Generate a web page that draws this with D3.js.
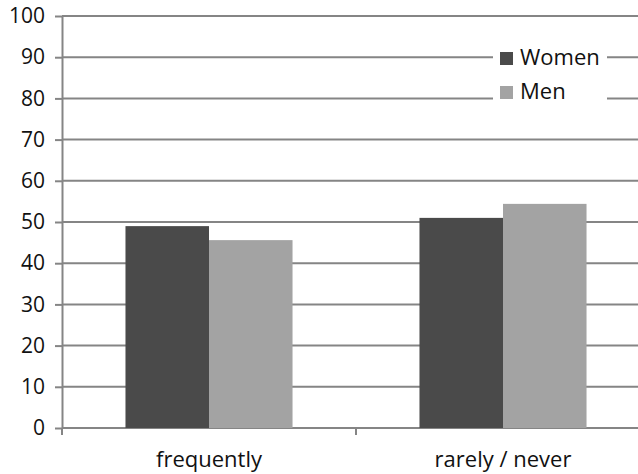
<!DOCTYPE html>
<html>
<head>
<meta charset="utf-8">
<script src="https://cdn.jsdelivr.net/npm/d3@7"></script>
<style>
  html, body { margin: 0; padding: 0; background: #fff; }
  svg { display: block; font-family: "Open Sans", sans-serif; }
</style>
</head>
<body>
<svg id="chart" width="638" height="474"></svg>
<script>
// Survey answers, percentage of respondents by sex
const categories = ["frequently", "rarely / never"];
const seriesNames = ["Women", "Men"];
const women = [49, 51];
const men = [45.6, 54.4];
const yTicks = [0, 10, 20, 30, 40, 50, 60, 70, 80, 90, 100];
const colors = ["#4a4a4a", "#a3a3a3"];

const values = [women, men];

const svg = d3.select("#chart");
const W = 638, H = 474;
const plotLeft = 62, plotRight = 650, plotTop = 16, plotBottom = 428;
const gridColor = "#858585";
const textColor = "#111";

const y = d3.scaleLinear().domain([0, 100]).range([plotBottom, plotTop]);
const x = d3.scaleBand().domain(categories).range([plotLeft, plotRight]).padding(0);
const xs = d3.scaleBand().domain(seriesNames).range([0, x.bandwidth()])
  .paddingInner(0).paddingOuter(0.76);

// horizontal gridlines
svg.append("g").selectAll("line").data(yTicks).join("line")
  .attr("x1", plotLeft).attr("x2", W)
  .attr("y1", d => y(d)).attr("y2", d => y(d))
  .attr("stroke", gridColor).attr("stroke-width", 2);

// bars
const groups = svg.append("g").selectAll("g").data(categories).join("g")
  .attr("transform", d => `translate(${x(d)},0)`);
groups.selectAll("rect")
  .data((c, i) => seriesNames.map((s, k) => ({ s, k, v: values[k][i] })))
  .join("rect")
  .attr("x", d => xs(d.s))
  .attr("width", xs.bandwidth())
  .attr("y", d => y(d.v))
  .attr("height", d => y(0) - y(d.v))
  .attr("fill", d => colors[d.k]);

// y axis
const yAxis = d3.axisLeft(y).tickValues(yTicks).tickSize(7).tickPadding(10).tickSizeOuter(0);
const gy = svg.append("g").attr("transform", `translate(${plotLeft},0)`).call(yAxis);
gy.select(".domain").attr("stroke", gridColor).attr("stroke-width", 2);
gy.selectAll(".tick line").attr("stroke", gridColor).attr("stroke-width", 2);
gy.selectAll(".tick text").attr("font-size", 21).attr("fill", textColor)
  .attr("font-family", "Open Sans, sans-serif");

// x axis with ticks between categories
const xAxis = d3.axisBottom(x).tickSize(0).tickPadding(23).tickSizeOuter(0);
const gx = svg.append("g").attr("transform", `translate(0,${plotBottom})`).call(xAxis);
gx.select(".domain").remove();
gx.selectAll(".tick text").attr("font-size", 22).attr("fill", textColor)
  .attr("font-family", "Open Sans, sans-serif");
svg.append("g").selectAll("line")
  .data([x(categories[0]), x(categories[1])])
  .join("line")
  .attr("x1", d => d).attr("x2", d => d)
  .attr("y1", plotBottom).attr("y2", plotBottom + 7)
  .attr("stroke", gridColor).attr("stroke-width", 2);

// legend
const legend = svg.append("g");
legend.append("rect").attr("x", 493).attr("y", 42).attr("width", 114).attr("height", 66)
  .attr("fill", "#fff");
seriesNames.forEach((s, i) => {
  const ly = 52 + i * 34;
  legend.append("rect").attr("x", 500).attr("y", ly).attr("width", 13).attr("height", 13)
    .attr("fill", colors[i]);
  legend.append("text").attr("x", 520).attr("y", ly + 13)
    .attr("font-size", 22).attr("fill", textColor).text(s);
});
</script>
</body>
</html>
